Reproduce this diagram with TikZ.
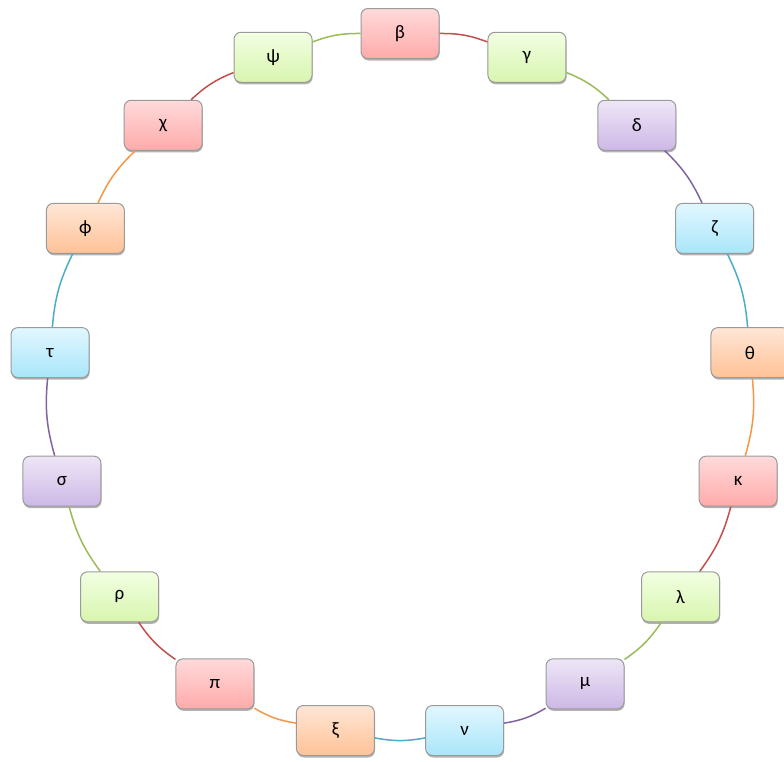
\documentclass[tikz,border=0pt]{standalone}
\usepackage{fontspec}
\setmainfont{Carlito}
\usetikzlibrary{shadows}
\definecolor{redline}{HTML}{C0504D}
\definecolor{grnline}{HTML}{9BBB59}
\definecolor{purline}{HTML}{8064A2}
\definecolor{bluline}{HTML}{4BACC6}
\definecolor{oraline}{HTML}{F79646}
\definecolor{redtop}{HTML}{FFDADA}
\definecolor{redbot}{HTML}{FFAAAA}
\definecolor{grntop}{HTML}{F2FFE2}
\definecolor{grnbot}{HTML}{D8F5AE}
\definecolor{purtop}{HTML}{EEE6F7}
\definecolor{purbot}{HTML}{CDB8E6}
\definecolor{blutop}{HTML}{E2F7FF}
\definecolor{blubot}{HTML}{A8E6FA}
\definecolor{oratop}{HTML}{FFE6D6}
\definecolor{orabot}{HTML}{FFC296}
\definecolor{boxborder}{HTML}{9A9A9A}
\tikzset{
  box/.style={draw=boxborder, line width=1pt, rounded corners=7pt,
    minimum width=78pt, minimum height=50pt, inner sep=0pt,
    top color=#1top, bottom color=#1bot,
    font=\fontsize{19}{21}\selectfont,
    drop shadow={shadow xshift=0.6pt, shadow yshift=-2pt, opacity=0.3, fill=black}},
  link/.style={line width=1.5pt, draw=#1line}
}
\begin{document}
\begin{tikzpicture}[x=1pt,y=1pt]
\useasboundingbox (0,0) rectangle (784,-761);
\foreach \n/\t/\c [count=\i from 0] in {
  beta/β/red, gamma/γ/grn, delta/δ/pur, zeta/ζ/blu, theta/θ/ora,
  kappa/κ/red, lambda/λ/grn, mu/μ/pur, nu/ν/blu, xi/ξ/ora,
  pi/π/red, rho/ρ/grn, sigma/σ/pur, tau/τ/blu, phi/ϕ/ora,
  chi/χ/red, psi/ψ/grn} {
  \node[box=\c] (\n) at ({400+351.5*cos(90-\i*360/17)}, {-385+351.5*sin(90-\i*360/17)}) {\t};
}
\foreach \a/\b/\c in {
  beta/gamma/red, gamma/delta/grn, delta/zeta/pur, zeta/theta/blu,
  theta/kappa/ora, kappa/lambda/red, lambda/mu/grn, mu/nu/pur,
  nu/xi/blu, xi/pi/ora, pi/rho/red, rho/sigma/grn, sigma/tau/pur,
  tau/phi/blu, phi/chi/ora, chi/psi/red, psi/beta/grn} {
  \draw[link=\c] (\a) to[bend left=10.6] (\b);
}
\end{tikzpicture}
\end{document}
